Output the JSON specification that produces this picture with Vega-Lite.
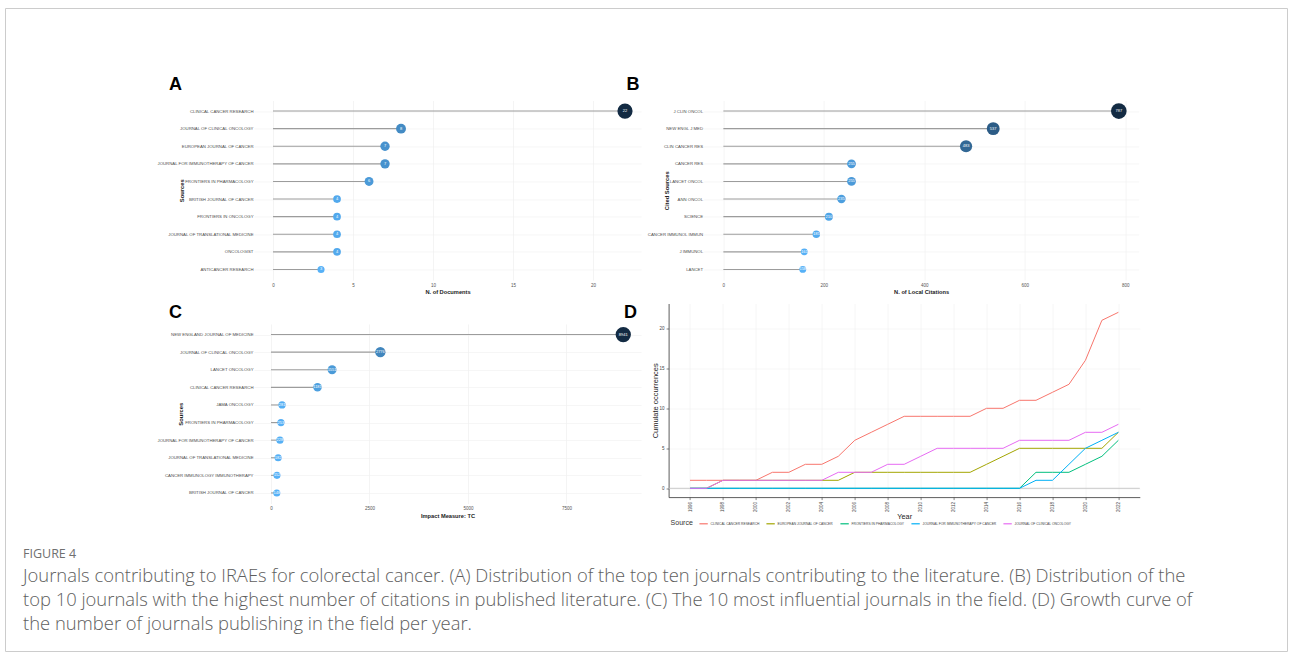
{
  "$schema": "https://vega.github.io/schema/vega-lite/v6.json",
  "background": "white",
  "padding": {"left": 4, "top": 7, "right": 0, "bottom": 5},
  "config": {
    "view": {"stroke": null},
    "font": "Liberation Sans",
    "axis": {"labelFont": "Liberation Sans", "titleFont": "Liberation Sans"}
  },
  "datasets": {
    "docs": [
      {"source": "CLINICAL CANCER RESEARCH", "n": 22},
      {"source": "JOURNAL OF CLINICAL ONCOLOGY", "n": 8},
      {"source": "EUROPEAN JOURNAL OF CANCER", "n": 7},
      {"source": "JOURNAL FOR IMMUNOTHERAPY OF CANCER", "n": 7},
      {"source": "FRONTIERS IN PHARMACOLOGY", "n": 6},
      {"source": "BRITISH JOURNAL OF CANCER", "n": 4},
      {"source": "FRONTIERS IN ONCOLOGY", "n": 4},
      {"source": "JOURNAL OF TRANSLATIONAL MEDICINE", "n": 4},
      {"source": "ONCOLOGIST", "n": 4},
      {"source": "ANTICANCER RESEARCH", "n": 3}
    ],
    "cited": [
      {"source": "J CLIN ONCOL", "n": 787},
      {"source": "NEW ENGL J MED", "n": 537},
      {"source": "CLIN CANCER RES", "n": 483},
      {"source": "CANCER RES", "n": 255},
      {"source": "LANCET ONCOL", "n": 255},
      {"source": "ANN ONCOL", "n": 235},
      {"source": "SCIENCE", "n": 210},
      {"source": "CANCER IMMUNOL IMMUN", "n": 185},
      {"source": "J IMMUNOL", "n": 161},
      {"source": "LANCET", "n": 158}
    ],
    "impact": [
      {"source": "NEW ENGLAND JOURNAL OF MEDICINE", "n": 8941},
      {"source": "JOURNAL OF CLINICAL ONCOLOGY", "n": 2776},
      {"source": "LANCET ONCOLOGY", "n": 1551},
      {"source": "CLINICAL CANCER RESEARCH", "n": 1181},
      {"source": "JAMA ONCOLOGY", "n": 281},
      {"source": "FRONTIERS IN PHARMACOLOGY", "n": 253},
      {"source": "JOURNAL FOR IMMUNOTHERAPY OF CANCER", "n": 228},
      {"source": "JOURNAL OF TRANSLATIONAL MEDICINE", "n": 182},
      {"source": "CANCER IMMUNOLOGY IMMUNOTHERAPY", "n": 152},
      {"source": "BRITISH JOURNAL OF CANCER", "n": 148}
    ],
    "growth": [
      {"year": 1996, "source": "CLINICAL CANCER RESEARCH", "count": 1},
      {"year": 1997, "source": "CLINICAL CANCER RESEARCH", "count": 1},
      {"year": 1998, "source": "CLINICAL CANCER RESEARCH", "count": 1},
      {"year": 1999, "source": "CLINICAL CANCER RESEARCH", "count": 1},
      {"year": 2000, "source": "CLINICAL CANCER RESEARCH", "count": 1},
      {"year": 2001, "source": "CLINICAL CANCER RESEARCH", "count": 2},
      {"year": 2002, "source": "CLINICAL CANCER RESEARCH", "count": 2},
      {"year": 2003, "source": "CLINICAL CANCER RESEARCH", "count": 3},
      {"year": 2004, "source": "CLINICAL CANCER RESEARCH", "count": 3},
      {"year": 2005, "source": "CLINICAL CANCER RESEARCH", "count": 4},
      {"year": 2006, "source": "CLINICAL CANCER RESEARCH", "count": 6},
      {"year": 2007, "source": "CLINICAL CANCER RESEARCH", "count": 7},
      {"year": 2008, "source": "CLINICAL CANCER RESEARCH", "count": 8},
      {"year": 2009, "source": "CLINICAL CANCER RESEARCH", "count": 9},
      {"year": 2010, "source": "CLINICAL CANCER RESEARCH", "count": 9},
      {"year": 2011, "source": "CLINICAL CANCER RESEARCH", "count": 9},
      {"year": 2012, "source": "CLINICAL CANCER RESEARCH", "count": 9},
      {"year": 2013, "source": "CLINICAL CANCER RESEARCH", "count": 9},
      {"year": 2014, "source": "CLINICAL CANCER RESEARCH", "count": 10},
      {"year": 2015, "source": "CLINICAL CANCER RESEARCH", "count": 10},
      {"year": 2016, "source": "CLINICAL CANCER RESEARCH", "count": 11},
      {"year": 2017, "source": "CLINICAL CANCER RESEARCH", "count": 11},
      {"year": 2018, "source": "CLINICAL CANCER RESEARCH", "count": 12},
      {"year": 2019, "source": "CLINICAL CANCER RESEARCH", "count": 13},
      {"year": 2020, "source": "CLINICAL CANCER RESEARCH", "count": 16},
      {"year": 2021, "source": "CLINICAL CANCER RESEARCH", "count": 21},
      {"year": 2022, "source": "CLINICAL CANCER RESEARCH", "count": 22},
      {"year": 1996, "source": "EUROPEAN JOURNAL OF CANCER", "count": 0},
      {"year": 1997, "source": "EUROPEAN JOURNAL OF CANCER", "count": 0},
      {"year": 1998, "source": "EUROPEAN JOURNAL OF CANCER", "count": 1},
      {"year": 1999, "source": "EUROPEAN JOURNAL OF CANCER", "count": 1},
      {"year": 2000, "source": "EUROPEAN JOURNAL OF CANCER", "count": 1},
      {"year": 2001, "source": "EUROPEAN JOURNAL OF CANCER", "count": 1},
      {"year": 2002, "source": "EUROPEAN JOURNAL OF CANCER", "count": 1},
      {"year": 2003, "source": "EUROPEAN JOURNAL OF CANCER", "count": 1},
      {"year": 2004, "source": "EUROPEAN JOURNAL OF CANCER", "count": 1},
      {"year": 2005, "source": "EUROPEAN JOURNAL OF CANCER", "count": 1},
      {"year": 2006, "source": "EUROPEAN JOURNAL OF CANCER", "count": 2},
      {"year": 2007, "source": "EUROPEAN JOURNAL OF CANCER", "count": 2},
      {"year": 2008, "source": "EUROPEAN JOURNAL OF CANCER", "count": 2},
      {"year": 2009, "source": "EUROPEAN JOURNAL OF CANCER", "count": 2},
      {"year": 2010, "source": "EUROPEAN JOURNAL OF CANCER", "count": 2},
      {"year": 2011, "source": "EUROPEAN JOURNAL OF CANCER", "count": 2},
      {"year": 2012, "source": "EUROPEAN JOURNAL OF CANCER", "count": 2},
      {"year": 2013, "source": "EUROPEAN JOURNAL OF CANCER", "count": 2},
      {"year": 2014, "source": "EUROPEAN JOURNAL OF CANCER", "count": 3},
      {"year": 2015, "source": "EUROPEAN JOURNAL OF CANCER", "count": 4},
      {"year": 2016, "source": "EUROPEAN JOURNAL OF CANCER", "count": 5},
      {"year": 2017, "source": "EUROPEAN JOURNAL OF CANCER", "count": 5},
      {"year": 2018, "source": "EUROPEAN JOURNAL OF CANCER", "count": 5},
      {"year": 2019, "source": "EUROPEAN JOURNAL OF CANCER", "count": 5},
      {"year": 2020, "source": "EUROPEAN JOURNAL OF CANCER", "count": 5},
      {"year": 2021, "source": "EUROPEAN JOURNAL OF CANCER", "count": 5},
      {"year": 2022, "source": "EUROPEAN JOURNAL OF CANCER", "count": 7},
      {"year": 1996, "source": "FRONTIERS IN PHARMACOLOGY", "count": 0},
      {"year": 1997, "source": "FRONTIERS IN PHARMACOLOGY", "count": 0},
      {"year": 1998, "source": "FRONTIERS IN PHARMACOLOGY", "count": 0},
      {"year": 1999, "source": "FRONTIERS IN PHARMACOLOGY", "count": 0},
      {"year": 2000, "source": "FRONTIERS IN PHARMACOLOGY", "count": 0},
      {"year": 2001, "source": "FRONTIERS IN PHARMACOLOGY", "count": 0},
      {"year": 2002, "source": "FRONTIERS IN PHARMACOLOGY", "count": 0},
      {"year": 2003, "source": "FRONTIERS IN PHARMACOLOGY", "count": 0},
      {"year": 2004, "source": "FRONTIERS IN PHARMACOLOGY", "count": 0},
      {"year": 2005, "source": "FRONTIERS IN PHARMACOLOGY", "count": 0},
      {"year": 2006, "source": "FRONTIERS IN PHARMACOLOGY", "count": 0},
      {"year": 2007, "source": "FRONTIERS IN PHARMACOLOGY", "count": 0},
      {"year": 2008, "source": "FRONTIERS IN PHARMACOLOGY", "count": 0},
      {"year": 2009, "source": "FRONTIERS IN PHARMACOLOGY", "count": 0},
      {"year": 2010, "source": "FRONTIERS IN PHARMACOLOGY", "count": 0},
      {"year": 2011, "source": "FRONTIERS IN PHARMACOLOGY", "count": 0},
      {"year": 2012, "source": "FRONTIERS IN PHARMACOLOGY", "count": 0},
      {"year": 2013, "source": "FRONTIERS IN PHARMACOLOGY", "count": 0},
      {"year": 2014, "source": "FRONTIERS IN PHARMACOLOGY", "count": 0},
      {"year": 2015, "source": "FRONTIERS IN PHARMACOLOGY", "count": 0},
      {"year": 2016, "source": "FRONTIERS IN PHARMACOLOGY", "count": 0},
      {"year": 2017, "source": "FRONTIERS IN PHARMACOLOGY", "count": 2},
      {"year": 2018, "source": "FRONTIERS IN PHARMACOLOGY", "count": 2},
      {"year": 2019, "source": "FRONTIERS IN PHARMACOLOGY", "count": 2},
      {"year": 2020, "source": "FRONTIERS IN PHARMACOLOGY", "count": 3},
      {"year": 2021, "source": "FRONTIERS IN PHARMACOLOGY", "count": 4},
      {"year": 2022, "source": "FRONTIERS IN PHARMACOLOGY", "count": 6},
      {"year": 1996, "source": "JOURNAL FOR IMMUNOTHERAPY OF CANCER", "count": 0},
      {"year": 1997, "source": "JOURNAL FOR IMMUNOTHERAPY OF CANCER", "count": 0},
      {"year": 1998, "source": "JOURNAL FOR IMMUNOTHERAPY OF CANCER", "count": 0},
      {"year": 1999, "source": "JOURNAL FOR IMMUNOTHERAPY OF CANCER", "count": 0},
      {"year": 2000, "source": "JOURNAL FOR IMMUNOTHERAPY OF CANCER", "count": 0},
      {"year": 2001, "source": "JOURNAL FOR IMMUNOTHERAPY OF CANCER", "count": 0},
      {"year": 2002, "source": "JOURNAL FOR IMMUNOTHERAPY OF CANCER", "count": 0},
      {"year": 2003, "source": "JOURNAL FOR IMMUNOTHERAPY OF CANCER", "count": 0},
      {"year": 2004, "source": "JOURNAL FOR IMMUNOTHERAPY OF CANCER", "count": 0},
      {"year": 2005, "source": "JOURNAL FOR IMMUNOTHERAPY OF CANCER", "count": 0},
      {"year": 2006, "source": "JOURNAL FOR IMMUNOTHERAPY OF CANCER", "count": 0},
      {"year": 2007, "source": "JOURNAL FOR IMMUNOTHERAPY OF CANCER", "count": 0},
      {"year": 2008, "source": "JOURNAL FOR IMMUNOTHERAPY OF CANCER", "count": 0},
      {"year": 2009, "source": "JOURNAL FOR IMMUNOTHERAPY OF CANCER", "count": 0},
      {"year": 2010, "source": "JOURNAL FOR IMMUNOTHERAPY OF CANCER", "count": 0},
      {"year": 2011, "source": "JOURNAL FOR IMMUNOTHERAPY OF CANCER", "count": 0},
      {"year": 2012, "source": "JOURNAL FOR IMMUNOTHERAPY OF CANCER", "count": 0},
      {"year": 2013, "source": "JOURNAL FOR IMMUNOTHERAPY OF CANCER", "count": 0},
      {"year": 2014, "source": "JOURNAL FOR IMMUNOTHERAPY OF CANCER", "count": 0},
      {"year": 2015, "source": "JOURNAL FOR IMMUNOTHERAPY OF CANCER", "count": 0},
      {"year": 2016, "source": "JOURNAL FOR IMMUNOTHERAPY OF CANCER", "count": 0},
      {"year": 2017, "source": "JOURNAL FOR IMMUNOTHERAPY OF CANCER", "count": 1},
      {"year": 2018, "source": "JOURNAL FOR IMMUNOTHERAPY OF CANCER", "count": 1},
      {"year": 2019, "source": "JOURNAL FOR IMMUNOTHERAPY OF CANCER", "count": 3},
      {"year": 2020, "source": "JOURNAL FOR IMMUNOTHERAPY OF CANCER", "count": 5},
      {"year": 2021, "source": "JOURNAL FOR IMMUNOTHERAPY OF CANCER", "count": 6},
      {"year": 2022, "source": "JOURNAL FOR IMMUNOTHERAPY OF CANCER", "count": 7},
      {"year": 1996, "source": "JOURNAL OF CLINICAL ONCOLOGY", "count": 0},
      {"year": 1997, "source": "JOURNAL OF CLINICAL ONCOLOGY", "count": 0},
      {"year": 1998, "source": "JOURNAL OF CLINICAL ONCOLOGY", "count": 1},
      {"year": 1999, "source": "JOURNAL OF CLINICAL ONCOLOGY", "count": 1},
      {"year": 2000, "source": "JOURNAL OF CLINICAL ONCOLOGY", "count": 1},
      {"year": 2001, "source": "JOURNAL OF CLINICAL ONCOLOGY", "count": 1},
      {"year": 2002, "source": "JOURNAL OF CLINICAL ONCOLOGY", "count": 1},
      {"year": 2003, "source": "JOURNAL OF CLINICAL ONCOLOGY", "count": 1},
      {"year": 2004, "source": "JOURNAL OF CLINICAL ONCOLOGY", "count": 1},
      {"year": 2005, "source": "JOURNAL OF CLINICAL ONCOLOGY", "count": 2},
      {"year": 2006, "source": "JOURNAL OF CLINICAL ONCOLOGY", "count": 2},
      {"year": 2007, "source": "JOURNAL OF CLINICAL ONCOLOGY", "count": 2},
      {"year": 2008, "source": "JOURNAL OF CLINICAL ONCOLOGY", "count": 3},
      {"year": 2009, "source": "JOURNAL OF CLINICAL ONCOLOGY", "count": 3},
      {"year": 2010, "source": "JOURNAL OF CLINICAL ONCOLOGY", "count": 4},
      {"year": 2011, "source": "JOURNAL OF CLINICAL ONCOLOGY", "count": 5},
      {"year": 2012, "source": "JOURNAL OF CLINICAL ONCOLOGY", "count": 5},
      {"year": 2013, "source": "JOURNAL OF CLINICAL ONCOLOGY", "count": 5},
      {"year": 2014, "source": "JOURNAL OF CLINICAL ONCOLOGY", "count": 5},
      {"year": 2015, "source": "JOURNAL OF CLINICAL ONCOLOGY", "count": 5},
      {"year": 2016, "source": "JOURNAL OF CLINICAL ONCOLOGY", "count": 6},
      {"year": 2017, "source": "JOURNAL OF CLINICAL ONCOLOGY", "count": 6},
      {"year": 2018, "source": "JOURNAL OF CLINICAL ONCOLOGY", "count": 6},
      {"year": 2019, "source": "JOURNAL OF CLINICAL ONCOLOGY", "count": 6},
      {"year": 2020, "source": "JOURNAL OF CLINICAL ONCOLOGY", "count": 7},
      {"year": 2021, "source": "JOURNAL OF CLINICAL ONCOLOGY", "count": 7},
      {"year": 2022, "source": "JOURNAL OF CLINICAL ONCOLOGY", "count": 8}
    ]
  },
  "bounds": "flush",
  "spacing": 92.5,
  "resolve": {"scale": {"color": "independent", "size": "independent"}, "legend": {"color": "independent", "size": "independent"}},
  "vconcat": [
    {
      "bounds": "flush",
      "vconcat": [
        {
          "width": 1282,
          "height": 643,
          "view": {"stroke": "#cccccc", "strokeWidth": 1},
          "data": {"values": [{}]},
          "mark": {"type": "point", "opacity": 0},
          "title": {
            "text": "FIGURE 4",
            "subtitle": [
              "Journals contributing to IRAEs for colorectal cancer. (A) Distribution of the top ten journals contributing to the literature. (B) Distribution of the",
              "top 10 journals with the highest number of citations in published literature. (C) The 10 most influential journals in the field. (D) Growth curve of",
              "the number of journals publishing in the field per year."
            ],
            "orient": "bottom",
            "anchor": "start",
            "frame": "group",
            "dx": 18,
            "offset": -103,
            "font": "Open Sans",
            "fontSize": 12.5,
            "fontWeight": "normal",
            "color": "#707070",
            "subtitleFont": "Open Sans",
            "subtitleFontSize": 18.4,
            "subtitleFontWeight": 300,
            "subtitleColor": "#5e5e5e",
            "subtitleLineHeight": 24,
            "subtitlePadding": 6
          }
        }
      ]
    },
    {
      "bounds": "flush",
      "spacing": 239,
      "resolve": {"scale": {"color": "independent", "size": "independent"}, "legend": {"color": "independent", "size": "independent"}},
      "hconcat": [
        {"width": 10, "height": 10, "data": {"values": [{}]}, "mark": {"type": "point", "opacity": 0, "size": 1}},
        {
          "bounds": "flush",
          "spacing": 414.6,
          "resolve": {"scale": {"color": "independent", "size": "independent"}, "legend": {"color": "independent", "size": "independent"}},
          "hconcat": [
            {
              "bounds": "flush",
              "spacing": 43.5,
              "resolve": {"scale": {"color": "independent", "size": "independent"}, "legend": {"color": "independent", "size": "independent"}},
              "vconcat": [
                {
                  "width": 387,
                  "height": 179.5,
                  "title": {"text": "A", "anchor": "start", "frame": "group", "dx": -85, "offset": -7, "baseline": "alphabetic", "fontSize": 18, "fontWeight": "bold", "font": "Liberation Sans", "color": "#000000"},
                  "data": {"name": "docs"},
                  "encoding": {
                    "y": {
                      "field": "source", "type": "nominal",
                      "sort": ["CLINICAL CANCER RESEARCH", "JOURNAL OF CLINICAL ONCOLOGY", "EUROPEAN JOURNAL OF CANCER", "JOURNAL FOR IMMUNOTHERAPY OF CANCER", "FRONTIERS IN PHARMACOLOGY", "BRITISH JOURNAL OF CANCER", "FRONTIERS IN ONCOLOGY", "JOURNAL OF TRANSLATIONAL MEDICINE", "ONCOLOGIST", "ANTICANCER RESEARCH"],
                      "scale": {"type": "point", "padding": 0.6},
                      "axis": {"title": "Sources", "domain": false, "ticks": false, "labelFontSize": 4.3, "labelColor": "#4d4d4d", "labelPadding": 1, "labelLimit": 300, "grid": true, "gridColor": "#f0f0f0", "gridWidth": 0.6, "titleFontSize": 5.8, "titleFontWeight": "bold", "titleColor": "#222222", "titleX": -73, "titleBaseline": "middle"}
                    },
                    "x": {
                      "field": "n", "type": "quantitative",
                      "scale": {"domain": [-1.19, 23.0], "nice": false, "zero": false},
                      "axis": {"values": [0, 5, 10, 15, 20], "title": "N. of Documents", "domain": false, "ticks": false, "labelFontSize": 4.5, "labelColor": "#555555", "labelPadding": 2, "grid": true, "gridColor": "#ececec", "gridWidth": 0.6, "titleFontSize": 5.7, "titleFontWeight": "bold", "titleColor": "#222222", "titlePadding": 2}
                    }
                  },
                  "layer": [
                    {"mark": {"type": "rule", "color": "#9c9c9c", "strokeWidth": 1.1}, "encoding": {"x2": {"datum": 0}}},
                    {"mark": {"type": "circle", "opacity": 1}, "encoding": {
                      "size": {"field": "n", "type": "quantitative", "scale": {"domain": [3, 22], "range": [50, 230], "zero": false}, "legend": null},
                      "color": {"field": "n", "type": "quantitative", "scale": {"domain": [3, 22], "range": ["#56B1F7", "#132B43"], "interpolate": "lab"}, "legend": null}
                    }},
                    {"mark": {"type": "text", "color": "white", "fontSize": 4, "font": "Liberation Sans"}, "encoding": {"text": {"field": "n", "type": "quantitative"}}}
                  ]
                },
                {
                  "width": 387,
                  "height": 179.5,
                  "title": {"text": "C", "anchor": "start", "frame": "group", "dx": -85, "offset": -12, "baseline": "alphabetic", "fontSize": 18, "fontWeight": "bold", "font": "Liberation Sans", "color": "#000000"},
                  "data": {"name": "impact"},
                  "encoding": {
                    "y": {
                      "field": "source", "type": "nominal",
                      "sort": ["NEW ENGLAND JOURNAL OF MEDICINE", "JOURNAL OF CLINICAL ONCOLOGY", "LANCET ONCOLOGY", "CLINICAL CANCER RESEARCH", "JAMA ONCOLOGY", "FRONTIERS IN PHARMACOLOGY", "JOURNAL FOR IMMUNOTHERAPY OF CANCER", "JOURNAL OF TRANSLATIONAL MEDICINE", "CANCER IMMUNOLOGY IMMUNOTHERAPY", "BRITISH JOURNAL OF CANCER"],
                      "scale": {"type": "point", "padding": 0.6},
                      "axis": {"title": "Sources", "domain": false, "ticks": false, "labelFontSize": 4.3, "labelColor": "#4d4d4d", "labelPadding": 1, "labelLimit": 300, "grid": true, "gridColor": "#f0f0f0", "gridWidth": 0.6, "titleFontSize": 5.8, "titleFontWeight": "bold", "titleColor": "#222222", "titleX": -74, "titleBaseline": "middle"}
                    },
                    "x": {
                      "field": "n", "type": "quantitative",
                      "scale": {"domain": [-431, 9391], "nice": false, "zero": false},
                      "axis": {"values": [0, 2500, 5000, 7500], "format": "d", "title": "Impact Measure: TC", "domain": false, "ticks": false, "labelFontSize": 4.5, "labelColor": "#555555", "labelPadding": 2, "grid": true, "gridColor": "#ececec", "gridWidth": 0.6, "titleFontSize": 5.7, "titleFontWeight": "bold", "titleColor": "#222222", "titlePadding": 2}
                    }
                  },
                  "layer": [
                    {"mark": {"type": "rule", "color": "#9c9c9c", "strokeWidth": 1.1}, "encoding": {"x2": {"datum": 0}}},
                    {"mark": {"type": "circle", "opacity": 1}, "encoding": {
                      "size": {"field": "n", "type": "quantitative", "scale": {"domain": [148, 8941], "range": [50, 235], "zero": false}, "legend": null},
                      "color": {"field": "n", "type": "quantitative", "scale": {"domain": [148, 8941], "range": ["#56B1F7", "#132B43"], "interpolate": "lab"}, "legend": null}
                    }},
                    {"mark": {"type": "text", "color": "white", "fontSize": 4, "font": "Liberation Sans"}, "encoding": {"text": {"field": "n", "type": "quantitative", "format": "d"}}}
                  ]
                }
              ]
            },
            {
              "bounds": "flush",
              "spacing": 203,
              "resolve": {"scale": {"color": "independent", "size": "independent"}, "legend": {"color": "independent", "size": "independent"}},
              "vconcat": [
                {
                  "bounds": "flush",
                  "spacing": 0,
                  "resolve": {"scale": {"color": "independent", "size": "independent"}, "legend": {"color": "independent", "size": "independent"}},
                  "hconcat": [
                    {"width": 34.6, "height": 179.5, "data": {"values": [{}]}, "mark": {"type": "point", "opacity": 0, "size": 1}},
                    {
                      "width": 435,
                      "height": 179.5,
                      "title": {"text": "B", "anchor": "start", "frame": "group", "dx": -77.2, "offset": -7, "baseline": "alphabetic", "fontSize": 18, "fontWeight": "bold", "font": "Liberation Sans", "color": "#000000"},
                      "data": {"name": "cited"},
                      "encoding": {
                        "y": {
                          "field": "source", "type": "nominal",
                          "sort": ["J CLIN ONCOL", "NEW ENGL J MED", "CLIN CANCER RES", "CANCER RES", "LANCET ONCOL", "ANN ONCOL", "SCIENCE", "CANCER IMMUNOL IMMUN", "J IMMUNOL", "LANCET"],
                          "scale": {"type": "point", "padding": 0.6},
                          "axis": {"title": "Cited Sources", "domain": false, "ticks": false, "labelFontSize": 4.3, "labelColor": "#4d4d4d", "labelPadding": 1, "labelLimit": 300, "grid": true, "gridColor": "#f0f0f0", "gridWidth": 0.6, "titleFontSize": 5.8, "titleFontWeight": "bold", "titleColor": "#222222", "titleX": -37, "titleBaseline": "middle"}
                        },
                        "x": {
                          "field": "n", "type": "quantitative",
                          "scale": {"domain": [-39.35, 826.35], "nice": false, "zero": false},
                          "axis": {"values": [0, 200, 400, 600, 800], "title": "N. of Local Citations", "domain": false, "ticks": false, "labelFontSize": 4.5, "labelColor": "#555555", "labelPadding": 2, "grid": true, "gridColor": "#ececec", "gridWidth": 0.6, "titleFontSize": 5.7, "titleFontWeight": "bold", "titleColor": "#222222", "titlePadding": 2}
                        }
                      },
                      "layer": [
                        {"mark": {"type": "rule", "color": "#9c9c9c", "strokeWidth": 1.1}, "encoding": {"x2": {"datum": 0}}},
                        {"mark": {"type": "circle", "opacity": 1}, "encoding": {
                          "size": {"field": "n", "type": "quantitative", "scale": {"domain": [158, 787], "range": [47, 245], "zero": false}, "legend": null},
                          "color": {"field": "n", "type": "quantitative", "scale": {"domain": [158, 787], "range": ["#56B1F7", "#132B43"], "interpolate": "lab"}, "legend": null}
                        }},
                        {"mark": {"type": "text", "color": "white", "fontSize": 4, "font": "Liberation Sans"}, "encoding": {"text": {"field": "n", "type": "quantitative"}}}
                      ]
                    }
                  ]
                },
                {
                  "width": 471.2,
                  "height": 193.6,
                  "title": {"text": "D", "anchor": "start", "frame": "group", "dx": -44.6, "offset": -32, "baseline": "alphabetic", "fontSize": 18, "fontWeight": "bold", "font": "Liberation Sans", "color": "#000000"},
                  "layer": [
                    {"data": {"values": [{}]}, "mark": {"type": "rule", "color": "#c4c4c4", "strokeWidth": 0.9}, "encoding": {"y": {"datum": 0, "type": "quantitative"}}},
                    {
                      "data": {"name": "growth"},
                      "mark": {"type": "line", "strokeWidth": 1},
                      "encoding": {
                        "x": {
                          "field": "year", "type": "quantitative",
                          "scale": {"domain": [1994.7, 2023.3], "nice": false, "zero": false},
                          "axis": {"values": [1996, 1998, 2000, 2002, 2004, 2006, 2008, 2010, 2012, 2014, 2016, 2018, 2020, 2022], "format": "d", "labelAngle": -90, "labelFontSize": 4.5, "labelColor": "#444444", "labelPadding": 2, "tickSize": 2.5, "tickColor": "#333333", "tickWidth": 0.6, "domainColor": "#333333", "domainWidth": 0.8, "grid": true, "gridColor": "#ededed", "gridWidth": 0.5, "title": "Year", "titleFontSize": 7.3, "titleFontWeight": "normal", "titleColor": "#222222", "titlePadding": 1}
                        },
                        "y": {
                          "field": "count", "type": "quantitative",
                          "scale": {"domain": [-1.1, 23.1], "nice": false, "zero": false},
                          "axis": {"values": [0, 5, 10, 15, 20], "labelFontSize": 4.5, "labelColor": "#444444", "labelPadding": 2, "tickSize": 2.5, "tickColor": "#333333", "tickWidth": 0.6, "domainColor": "#333333", "domainWidth": 0.8, "grid": true, "gridColor": "#ededed", "gridWidth": 0.5, "title": "Cumulate occurrences", "titleFontSize": 7.5, "titleFontWeight": "normal", "titleColor": "#222222", "titlePadding": 0}
                        },
                        "color": {
                          "field": "source", "type": "nominal",
                          "scale": {"domain": ["CLINICAL CANCER RESEARCH", "EUROPEAN JOURNAL OF CANCER", "FRONTIERS IN PHARMACOLOGY", "JOURNAL FOR IMMUNOTHERAPY OF CANCER", "JOURNAL OF CLINICAL ONCOLOGY"], "range": ["#F8766D", "#A3A500", "#00BF7D", "#00B0F6", "#E76BF3"]},
                          "legend": {"title": "Source", "orient": "none", "legendX": 2, "legendY": 215, "direction": "horizontal", "columns": 5, "titleOrient": "left", "titleFontSize": 7, "titleFontWeight": "normal", "titleColor": "#333333", "titlePadding": 5, "labelFontSize": 3.3, "labelColor": "#444444", "labelOffset": 2, "symbolType": "stroke", "symbolStrokeWidth": 1.2, "symbolSize": 70, "columnPadding": 4}
                        }
                      }
                    }
                  ]
                }
              ]
            }
          ]
        }
      ]
    }
  ]
}
